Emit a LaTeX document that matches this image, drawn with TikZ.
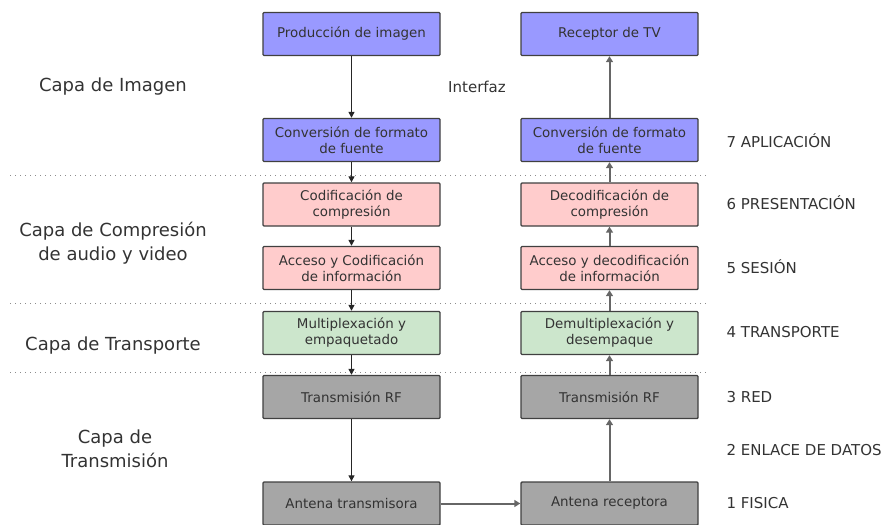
\documentclass[tikz,border=0pt]{standalone}
\usepackage{fontspec}
\setmainfont{DejaVu Sans}
\usetikzlibrary{arrows.meta}
\definecolor{cblue}{HTML}{9999FF}
\definecolor{cpink}{HTML}{FFCCCC}
\definecolor{cgreen}{HTML}{CCE6CC}
\definecolor{cgray}{HTML}{A6A6A6}
\definecolor{cedge}{HTML}{404040}
\definecolor{ctext}{HTML}{333333}
\begin{document}
\begin{tikzpicture}[x=1pt,y=-1pt,
  box/.style={draw=cedge, line width=1.4pt, rounded corners=1pt, minimum width=177pt, minimum height=43pt, inner sep=0pt, align=center, text=ctext, font=\fontsize{13.4}{16}\selectfont},
  bluebox/.style={box, fill=cblue},
  pinkbox/.style={box, fill=cpink},
  greenbox/.style={box, fill=cgreen},
  graybox/.style={box, fill=cgray},
  larrow/.style={draw=black!85, line width=1.3pt, -{Triangle[length=6pt,width=6pt]}},
  rarrow/.style={draw=black!60, line width=2pt, -{Triangle[length=6pt,width=7pt]}},
  sep/.style={draw=black!45, line width=1pt, dash pattern=on 1pt off 4pt},
  layer/.style={text=ctext, align=center, font=\fontsize{18}{24}\selectfont},
  osi/.style={text=ctext, anchor=west, font=\fontsize{15}{18}\selectfont}
]
\useasboundingbox (0,0) rectangle (884,525);

% separators
\draw[sep] (10,175) -- (708,175);
\draw[sep] (10,303) -- (708,303);
\draw[sep] (10,372) -- (708,372);

% left column
\node[bluebox]  (l1) at (351.5,34)  {Producción de imagen};
\node[bluebox]  (l2) at (351.5,140) {Conversión de formato\\de fuente};
\node[pinkbox]  (l3) at (351.5,204.5) {Codificación de\\compresión};
\node[pinkbox]  (l4) at (351.5,268) {Acceso y Codificación\\de información};
\node[greenbox] (l5) at (351.5,333) {Multiplexación y\\empaquetado};
\node[graybox]  (l6) at (351.5,397) {Transmisión RF};
\node[graybox]  (l7) at (351.5,503.5) {Antena transmisora};

% right column
\node[bluebox]  (r1) at (609.5,34)  {Receptor de TV};
\node[bluebox]  (r2) at (609.5,140) {Conversión de formato\\de fuente};
\node[pinkbox]  (r3) at (609.5,204.5) {Decodificación de\\compresión};
\node[pinkbox]  (r4) at (609.5,268) {Acceso y decodificación\\de información};
\node[greenbox] (r5) at (609.5,333) {Demultiplexación y\\desempaque};
\node[graybox]  (r6) at (609.5,397) {Transmisión RF};
\node[graybox]  (r7) at (609.5,503.5) {Antena receptora};

% arrows
\draw[larrow] (l1) -- (l2);
\draw[larrow] (l2) -- (l3);
\draw[larrow] (l3) -- (l4);
\draw[larrow] (l4) -- (l5);
\draw[larrow] (l5) -- (l6);
\draw[larrow] (l6) -- (l7);
\draw[rarrow] (l7) -- (r7);
\draw[rarrow] (r7) -- (r6);
\draw[rarrow] (r6) -- (r5);
\draw[rarrow] (r5) -- (r4);
\draw[rarrow] (r4) -- (r3);
\draw[rarrow] (r3) -- (r2);
\draw[rarrow] (r2) -- (r1);

\node[text=ctext, font=\fontsize{15}{18}\selectfont] (itf) at (477,87) {Interfaz};

% layer labels
\node[layer] (c1) at (113,87) {Capa de Imagen};
\node[layer] (c2) at (113,243) {Capa de Compresión\\de audio y video};
\node[layer] (c3) at (113,346) {Capa de Transporte};
\node[layer] (c4) at (115,449) {Capa de\\Transmisión};

% OSI labels
\node[osi] (o7) at (723,141) {7 APLICACIÓN};
\node[osi] (o6) at (723,203) {6 PRESENTACIÓN};
\node[osi] (o5) at (723,267) {5 SESIÓN};
\node[osi] (o4) at (723,332) {4 TRANSPORTE};
\node[osi] (o3) at (723,397) {3 RED};
\node[osi] (o2) at (723,450) {2 ENLACE DE DATOS};
\node[osi] (o1) at (723,503) {1 FISICA};
\end{tikzpicture}
\end{document}
